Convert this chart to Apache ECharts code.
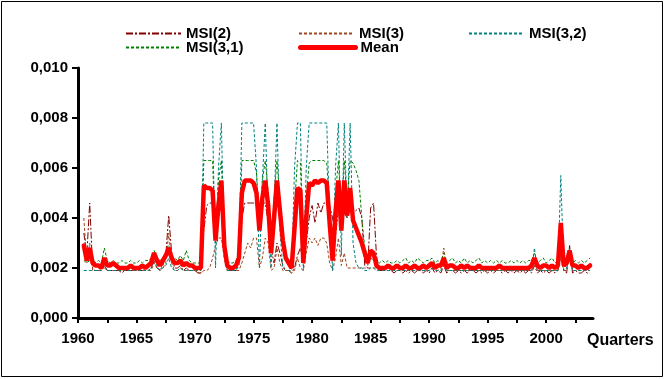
<!DOCTYPE html>
<html><head><meta charset="utf-8">
<script src="https://cdn.jsdelivr.net/npm/echarts@6/dist/echarts.min.js"></script>
<style>html,body{margin:0;padding:0;background:#fff}#c{width:665px;height:379px}</style>
</head><body><div id="c"></div>
<script>
// first observation: 1960 Q3, quarterly to 2003 Q4
const startYear = 1960;
const startQuarter = 3;
const xTickValues = [1960,1962.5,1965,1967.5,1970,1972.5,1975,1977.5,1980,1982.5,1985,1987.5,1990,1992.5,1995,1997.5,2000,2002.5];
const xLabelValues = [1960,1965,1970,1975,1980,1985,1990,1995,2000];
const seriesNames = ['MSI(2)','MSI(3)','MSI(3,2)','MSI(3,1)','Mean'];

const msi2 = [
0.0034,0.0025,0.0046,0.0020,0.0019,0.0019,0.0019,0.0021,
0.0019,0.0019,0.0019,0.0019,0.0019,0.0018,0.0019,0.0019,0.0019,0.0019,
0.0019,0.0019,0.0019,0.0019,0.0019,0.0020,0.0023,0.0020,0.0019,0.0021,
0.0025,0.0041,0.0026,0.0020,0.0020,0.0021,0.0019,0.0020,0.0019,0.0019,
0.0019,0.0018,0.0018,0.0035,0.0045,0.0046,0.0046,0.0042,0.0040,0.0046,
0.0030,0.0019,0.0019,0.0019,0.0019,0.0021,0.0040,0.0046,0.0046,0.0046,
0.0046,0.0046,0.0045,0.0046,0.0046,0.0038,0.0028,0.0022,0.0030,0.0026,
0.0021,0.0019,0.0019,0.0018,0.0020,0.0025,0.0028,0.0022,0.0030,0.0040,
0.0045,0.0038,0.0046,0.0042,0.0046,0.0046,0.0045,0.0040,0.0033,0.0043,
0.0036,0.0042,0.0040,0.0043,0.0042,0.0043,0.0044,0.0040,0.0021,0.0020,
0.0044,0.0046,0.0025,0.0019,0.0019,0.0019,0.0019,0.0019,0.0018,0.0019,
0.0019,0.0018,0.0019,0.0018,0.0019,0.0018,0.0019,0.0019,0.0018,0.0019,
0.0018,0.0020,0.0018,0.0019,0.0018,0.0021,0.0018,0.0019,0.0019,0.0018,
0.0019,0.0018,0.0019,0.0018,0.0019,0.0019,0.0018,0.0019,0.0018,0.0019,
0.0018,0.0019,0.0018,0.0019,0.0019,0.0018,0.0019,0.0018,0.0019,0.0018,
0.0019,0.0018,0.0019,0.0018,0.0019,0.0018,0.0021,0.0018,0.0019,0.0018,
0.0019,0.0018,0.0019,0.0018,0.0019,0.0026,0.0019,0.0018,0.0029,0.0018,
0.0019,0.0018,0.0018,0.0019,0.0018,0.0018
];

const msi3 = [
0.0040,0.0022,0.0030,0.0019,0.0019,0.0019,0.0019,0.0020,
0.0019,0.0019,0.0019,0.0019,0.0019,0.0019,0.0019,0.0019,0.0019,0.0019,
0.0019,0.0019,0.0019,0.0019,0.0019,0.0019,0.0022,0.0020,0.0019,0.0020,
0.0022,0.0034,0.0022,0.0019,0.0019,0.0020,0.0019,0.0019,0.0019,0.0019,
0.0019,0.0018,0.0018,0.0019,0.0019,0.0020,0.0024,0.0029,0.0032,0.0032,
0.0024,0.0019,0.0019,0.0019,0.0019,0.0019,0.0022,0.0026,0.0030,0.0028,
0.0032,0.0032,0.0020,0.0024,0.0032,0.0030,0.0019,0.0020,0.0028,0.0022,
0.0019,0.0019,0.0019,0.0018,0.0019,0.0024,0.0020,0.0019,0.0026,0.0032,
0.0030,0.0032,0.0029,0.0032,0.0032,0.0030,0.0022,0.0019,0.0024,0.0032,
0.0021,0.0026,0.0020,0.0020,0.0020,0.0020,0.0020,0.0020,0.0020,0.0020,
0.0020,0.0020,0.0020,0.0019,0.0019,0.0019,0.0019,0.0019,0.0019,0.0019,
0.0019,0.0019,0.0019,0.0019,0.0019,0.0019,0.0019,0.0019,0.0019,0.0019,
0.0019,0.0021,0.0019,0.0019,0.0020,0.0028,0.0019,0.0019,0.0019,0.0019,
0.0019,0.0019,0.0019,0.0019,0.0019,0.0019,0.0019,0.0019,0.0019,0.0019,
0.0019,0.0019,0.0019,0.0019,0.0019,0.0019,0.0019,0.0019,0.0019,0.0019,
0.0019,0.0019,0.0019,0.0019,0.0019,0.0019,0.0022,0.0019,0.0019,0.0019,
0.0019,0.0019,0.0019,0.0019,0.0019,0.0024,0.0019,0.0019,0.0025,0.0019,
0.0019,0.0019,0.0019,0.0019,0.0019,0.0019
];

const msi32 = [
0.0019,0.0019,0.0019,0.0019,0.0019,0.0019,0.0019,0.0021,
0.0019,0.0019,0.0019,0.0019,0.0019,0.0019,0.0019,0.0019,0.0019,0.0019,
0.0019,0.0019,0.0019,0.0019,0.0019,0.0020,0.0026,0.0021,0.0019,0.0020,
0.0021,0.0024,0.0020,0.0019,0.0019,0.0020,0.0019,0.0019,0.0019,0.0019,
0.0019,0.0019,0.0019,0.0078,0.0078,0.0078,0.0078,0.0020,0.0060,0.0078,
0.0024,0.0019,0.0019,0.0019,0.0019,0.0024,0.0078,0.0078,0.0078,0.0078,
0.0078,0.0060,0.0020,0.0055,0.0078,0.0040,0.0020,0.0045,0.0078,0.0035,
0.0020,0.0019,0.0019,0.0019,0.0060,0.0078,0.0078,0.0019,0.0060,0.0078,
0.0078,0.0078,0.0078,0.0078,0.0078,0.0078,0.0040,0.0019,0.0060,0.0078,
0.0025,0.0078,0.0040,0.0078,0.0030,0.0022,0.0020,0.0020,0.0019,0.0019,
0.0020,0.0020,0.0019,0.0019,0.0019,0.0019,0.0019,0.0019,0.0019,0.0019,
0.0019,0.0019,0.0019,0.0019,0.0019,0.0019,0.0019,0.0019,0.0019,0.0019,
0.0019,0.0020,0.0019,0.0019,0.0019,0.0022,0.0019,0.0019,0.0019,0.0019,
0.0019,0.0019,0.0019,0.0019,0.0019,0.0019,0.0019,0.0019,0.0019,0.0019,
0.0019,0.0019,0.0019,0.0019,0.0019,0.0019,0.0019,0.0019,0.0019,0.0019,
0.0019,0.0019,0.0019,0.0019,0.0019,0.0019,0.0028,0.0019,0.0019,0.0019,
0.0019,0.0019,0.0019,0.0019,0.0019,0.0057,0.0019,0.0020,0.0028,0.0019,
0.0019,0.0019,0.0019,0.0019,0.0019,0.0019
];

const msi31 = [
0.0023,0.0022,0.0023,0.0024,0.0022,0.0023,0.0022,0.0028,
0.0023,0.0022,0.0023,0.0022,0.0022,0.0023,0.0022,0.0022,0.0023,0.0022,
0.0022,0.0023,0.0022,0.0023,0.0023,0.0024,0.0027,0.0024,0.0023,0.0024,
0.0026,0.0029,0.0025,0.0024,0.0023,0.0025,0.0023,0.0027,0.0023,0.0022,
0.0022,0.0022,0.0022,0.0063,0.0063,0.0063,0.0063,0.0030,0.0055,0.0063,
0.0030,0.0023,0.0022,0.0022,0.0023,0.0026,0.0063,0.0063,0.0063,0.0063,
0.0063,0.0058,0.0038,0.0055,0.0063,0.0050,0.0028,0.0048,0.0063,0.0048,
0.0033,0.0025,0.0023,0.0022,0.0045,0.0063,0.0062,0.0023,0.0048,0.0062,
0.0063,0.0063,0.0063,0.0063,0.0063,0.0062,0.0045,0.0023,0.0050,0.0063,
0.0040,0.0063,0.0047,0.0063,0.0062,0.0059,0.0055,0.0040,0.0028,0.0025,
0.0024,0.0023,0.0023,0.0022,0.0023,0.0022,0.0023,0.0022,0.0022,0.0023,
0.0022,0.0023,0.0024,0.0022,0.0023,0.0022,0.0024,0.0023,0.0022,0.0023,
0.0023,0.0024,0.0022,0.0023,0.0022,0.0026,0.0022,0.0023,0.0024,0.0022,
0.0023,0.0022,0.0024,0.0022,0.0023,0.0022,0.0023,0.0024,0.0022,0.0023,
0.0022,0.0023,0.0022,0.0023,0.0022,0.0023,0.0022,0.0022,0.0023,0.0022,
0.0023,0.0022,0.0023,0.0022,0.0023,0.0023,0.0026,0.0022,0.0023,0.0024,
0.0022,0.0023,0.0024,0.0022,0.0023,0.0034,0.0022,0.0023,0.0028,0.0022,
0.0023,0.0022,0.0023,0.0022,0.0023,0.0024
];

const mean = [
0.0029,0.0023,0.0028,0.0022,0.0021,0.0021,0.0020,0.0024,
0.0021,0.0021,0.0022,0.0021,0.0020,0.0020,0.0020,0.0020,0.0021,0.0020,
0.0020,0.0020,0.0021,0.0020,0.0021,0.0022,0.0026,0.0023,0.0021,0.0023,
0.0025,0.0028,0.0024,0.0022,0.0022,0.0023,0.0021,0.0022,0.0021,0.0021,
0.0020,0.0020,0.0020,0.0053,0.0052,0.0052,0.0051,0.0031,0.0045,0.0055,
0.0029,0.0021,0.0020,0.0020,0.0021,0.0024,0.0050,0.0055,0.0055,0.0055,
0.0054,0.0050,0.0035,0.0048,0.0055,0.0045,0.0026,0.0040,0.0055,0.0043,
0.0031,0.0024,0.0022,0.0020,0.0036,0.0052,0.0051,0.0022,0.0040,0.0054,
0.0053,0.0055,0.0054,0.0055,0.0055,0.0054,0.0038,0.0023,0.0042,0.0055,
0.0035,0.0055,0.0041,0.0052,0.0039,0.0036,0.0033,0.0030,0.0026,0.0022,
0.0027,0.0026,0.0021,0.0020,0.0020,0.0020,0.0021,0.0020,0.0020,0.0021,
0.0020,0.0020,0.0021,0.0020,0.0020,0.0021,0.0020,0.0020,0.0021,0.0020,
0.0021,0.0022,0.0020,0.0021,0.0021,0.0024,0.0020,0.0021,0.0021,0.0020,
0.0020,0.0021,0.0020,0.0021,0.0020,0.0020,0.0020,0.0021,0.0020,0.0020,
0.0020,0.0020,0.0020,0.0020,0.0021,0.0020,0.0020,0.0020,0.0020,0.0020,
0.0020,0.0020,0.0020,0.0020,0.0020,0.0021,0.0024,0.0021,0.0020,0.0021,
0.0021,0.0020,0.0021,0.0020,0.0021,0.0038,0.0021,0.0022,0.0027,0.0021,
0.0021,0.0020,0.0021,0.0020,0.0020,0.0021
];

// quarter positions on the time axis (year + fraction)
const quarterPos = mean.map((_, k) => startYear + (startQuarter - 1 + k) / 4);
const pairs = arr => arr.map((v, k) => [quarterPos[k], v]);

const FONT = "'Liberation Sans', Arial, sans-serif";
const txt = {fontFamily: FONT, fontSize: 15, fontWeight: 'bold', color: '#000'};

const styles = [
  {color: '#800000', width: 1, type: [7, 2, 2, 2]},
  {color: '#A0461E', width: 1, type: [3, 2]},
  {color: '#008080', width: 1, type: [3, 2]},
  {color: '#008000', width: 1, type: [3, 2]},
  {color: '#FF0000', width: 4.5, type: 'solid', cap: 'round'}
];
const datasets = [msi2, msi3, msi32, msi31, mean];

const legendPos = [
  {left: 125, top: 26}, {left: 298, top: 26}, {left: 468, top: 26},
  {left: 125, top: 40}, {left: 298, top: 40}
];
const legendOrder = ['MSI(2)', 'MSI(3)', 'MSI(3,2)', 'MSI(3,1)', 'Mean'];

const chart = echarts.init(document.getElementById('c'), null, {renderer: 'canvas'});
chart.setOption({
  animation: false,
  backgroundColor: '#fff',
  grid: {left: 78, right: 72, top: 68, bottom: 61, containLabel: false},
  legend: legendOrder.map((nm, k) => {
    const lg = {
      data: [nm], left: legendPos[k].left, top: legendPos[k].top,
      itemWidth: 55, itemHeight: 14, itemGap: 0, padding: 0,
      textStyle: txt, selectedMode: false,
      itemStyle: {color: 'rgba(0,0,0,0)', borderWidth: 0, opacity: 0}
    };
    if (nm === 'Mean') lg.lineStyle = {width: 5};
    return lg;
  }),
  xAxis: {
    type: 'value', min: 1960, max: 2004,
    axisLine: {show: true, lineStyle: {color: '#000', width: 3}},
    axisTick: {show: true, inside: false, length: 5, customValues: xTickValues, lineStyle: {color: '#000', width: 2}},
    axisLabel: {show: true, customValues: xLabelValues, margin: 13, formatter: v => String(Math.round(v)), ...txt},
    splitLine: {show: false}
  },
  yAxis: {
    type: 'value', min: 0, max: 0.010, interval: 0.002,
    axisLine: {show: true, lineStyle: {color: '#000', width: 3}},
    axisTick: {show: true, inside: false, length: 6, lineStyle: {color: '#000', width: 2}},
    axisLabel: {margin: 10, formatter: v => v.toFixed(3).replace('.', ','), ...txt},
    splitLine: {show: false}
  },
  graphic: [
    {type: 'rect', shape: {x: 1.5, y: 1.5, width: 661, height: 375}, style: {fill: 'none', stroke: '#000', lineWidth: 1}, silent: true, z: -1},
    {type: 'text', left: 587, top: 333, style: {text: 'Quarters', font: "bold 16px 'Liberation Sans', Arial, sans-serif", fill: '#000'}}
  ],
  series: seriesNames.map((nm, k) => ({
    name: nm, type: 'line', data: pairs(datasets[k]),
    symbol: 'none', showSymbol: false, smooth: false,
    lineStyle: styles[k], itemStyle: {color: styles[k].color},
    z: k === 4 ? 5 : 2
  }))
});
</script></body></html>
